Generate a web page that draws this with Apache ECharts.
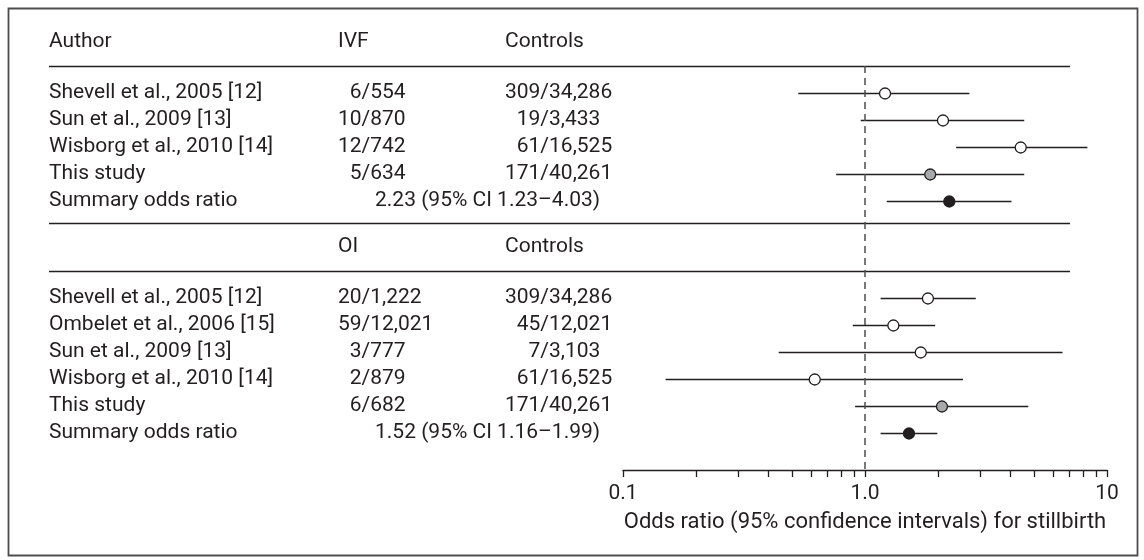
<!DOCTYPE html>
<html>
<head>
<meta charset="utf-8">
<title>Stillbirth odds ratios, IVF and OI</title>
<script src="https://cdn.jsdelivr.net/npm/echarts@6/dist/echarts.min.js"></script>
<style>
  html, body { margin: 0; padding: 0; background: #fff; }
  #chart { width: 1144px; height: 560px; }
</style>
</head>
<body>
<div id="chart"></div>
<script>
// IVF block
const ivfAuthors = ['Shevell et al., 2005 [12]', 'Sun et al., 2009 [13]', 'Wisborg et al., 2010 [14]', 'This study', 'Summary odds ratio'];
const ivfCases = ['6/554', '10/870', '12/742', '5/634'];
const ivfControls = ['309/34,286', '19/3,433', '61/16,525', '171/40,261'];
const ivfSummaryText = '2.23 (95% CI 1.23\u20134.03)';
const ivfOR = [1.21, 2.1, 4.4, 1.86, 2.23];
const ivfLow = [0.53, 0.96, 2.38, 0.76, 1.23];
const ivfHigh = [2.7, 4.55, 8.3, 4.55, 4.03];

// OI block
const oiAuthors = ['Shevell et al., 2005 [12]', 'Ombelet et al., 2006 [15]', 'Sun et al., 2009 [13]', 'Wisborg et al., 2010 [14]', 'This study', 'Summary odds ratio'];
const oiCases = ['20/1,222', '59/12,021', '3/777', '2/879', '6/682'];
const oiControls = ['309/34,286', '45/12,021', '7/3,103', '61/16,525', '171/40,261'];
const oiSummaryText = '1.52 (95% CI 1.16\u20131.99)';
const oiOR = [1.82, 1.31, 1.7, 0.62, 2.08, 1.52];
const oiLow = [1.16, 0.89, 0.44, 0.15, 0.91, 1.16];
const oiHigh = [2.87, 1.95, 6.55, 2.54, 4.73, 1.99];

// x axis
const oddsTicks = [0.1, 0.2, 0.3, 0.4, 0.5, 0.6, 0.7, 0.8, 0.9, 1, 2, 3, 4, 5, 6, 7, 8, 9, 10];
const oddsLabelValues = [0.1, 1, 10];
const oddsLabelText = ['0.1', '1.0', '10'];
const axisTitle = 'Odds ratio (95% confidence intervals) for stillbirth';

// layout (px)
const W = 1144, H = 560;
const ROW0 = 93, ROW = 27;          // first study row, row pitch
const TOP_RULE = 66, AXIS_Y = 470;
const FOREST_LEFT = 623, FOREST_RIGHT = 1107;
const COL_AUTHOR = 49, COL_CASE = 338, COL_CTRL = 505, COL_SUMMARY = 375;
const RULE_X0 = 49, RULE_X1 = 1070;
const INK = '#231f20';
const FONT_FAMILY = 'Roboto';
const FONT_SIZE = 21;

// row positions in row units (0 = first IVF study)
const toRow = px => (px - ROW0) / ROW;
const head1 = toRow(42);
const rule1 = toRow(TOP_RULE);
const ivfRows = ivfAuthors.map((_, i) => i);
const rule2 = ivfRows[ivfRows.length - 1] + 22 / ROW;
const head2 = rule2 + 24 / ROW;
const rule3 = head2 + 24 / ROW;
const oiRows = oiAuthors.map((_, i) => rule3 + 1 + i);

const digitW = FONT_SIZE * 0.5615;
const caseSlash = COL_CASE + 2 * digitW;
const ctrlSlash = COL_CTRL + 3 * digitW;

// table cells
const cells = [];
function cell(x, y, text, align) { cells.push({ x, y, text, align }); }
function ratioCell(slashX, y, s) {
  const k = s.indexOf('/');
  cell(slashX, y, s.slice(0, k), 'right');
  cell(slashX, y, s.slice(k), 'left');
}
cell(COL_AUTHOR, head1, 'Author', 'left');
cell(COL_CASE, head1, 'IVF', 'left');
cell(COL_CTRL, head1, 'Controls', 'left');
ivfAuthors.forEach((a, i) => cell(COL_AUTHOR, ivfRows[i], a, 'left'));
ivfCases.forEach((s, i) => ratioCell(caseSlash, ivfRows[i], s));
ivfControls.forEach((s, i) => ratioCell(ctrlSlash, ivfRows[i], s));
cell(COL_SUMMARY, ivfRows[ivfRows.length - 1], ivfSummaryText, 'left');
cell(COL_CASE, head2, 'OI', 'left');
cell(COL_CTRL, head2, 'Controls', 'left');
oiAuthors.forEach((a, i) => cell(COL_AUTHOR, oiRows[i], a, 'left'));
oiCases.forEach((s, i) => ratioCell(caseSlash, oiRows[i], s));
oiControls.forEach((s, i) => ratioCell(ctrlSlash, oiRows[i], s));
cell(COL_SUMMARY, oiRows[oiRows.length - 1], oiSummaryText, 'left');

// forest data: [or, low, high, row, kind] kind 0 study, 1 this study, 2 summary
function kindOf(name) {
  if (name === 'This study') return 1;
  if (name === 'Summary odds ratio') return 2;
  return 0;
}
const forestData = [];
ivfAuthors.forEach((a, i) => forestData.push([ivfOR[i], ivfLow[i], ivfHigh[i], ivfRows[i], kindOf(a)]));
oiAuthors.forEach((a, i) => forestData.push([oiOR[i], oiLow[i], oiHigh[i], oiRows[i], kindOf(a)]));
const dotFill = ['#ffffff', '#a7a9ac', '#231f20'];

const rules = [[rule1], [rule2], [rule3]];

const chart = echarts.init(document.getElementById('chart'));

chart.setOption({
  backgroundColor: '#fff',
  animation: false,
  textStyle: { fontFamily: FONT_FAMILY, color: INK },
  graphic: [{
    type: 'rect',
    silent: true,
    shape: { x: 8.5, y: 8.5, width: 1129, height: 547 },
    style: { fill: 'none', stroke: '#4d4d4d', lineWidth: 1.8 }
  }],
  grid: [
    { left: 0, top: 0, width: W, height: H },
    { left: FOREST_LEFT, top: TOP_RULE, width: FOREST_RIGHT - FOREST_LEFT, height: AXIS_Y - TOP_RULE }
  ],
  xAxis: [
    { gridIndex: 0, type: 'value', min: 0, max: W, show: false },
    {
      gridIndex: 1,
      type: 'log',
      logBase: 10,
      min: 0.1,
      max: 10,
      axisLine: { onZero: false, lineStyle: { color: INK, width: 1.3 } },
      axisTick: { show: true, length: 7, customValues: oddsTicks, lineStyle: { color: INK, width: 1.3 } },
      axisLabel: {
        customValues: oddsLabelValues,
        margin: 13,
        fontSize: FONT_SIZE,
        fontFamily: FONT_FAMILY,
        color: INK,
        formatter: v => {
          const i = oddsLabelValues.findIndex(t => Math.abs(Math.log10(t) - Math.log10(v)) < 1e-6);
          return i >= 0 ? oddsLabelText[i] : '';
        }
      },
      splitLine: { show: false },
      minorTick: { show: false },
      name: axisTitle,
      nameLocation: 'middle',
      nameGap: 41,
      nameTextStyle: { fontSize: 22, fontFamily: FONT_FAMILY, color: INK }
    }
  ],
  yAxis: [
    { gridIndex: 0, type: 'value', inverse: true, min: toRow(0), max: toRow(H), show: false },
    { gridIndex: 1, type: 'value', inverse: true, min: toRow(TOP_RULE), max: toRow(AXIS_Y), show: false }
  ],
  series: [
    {
      type: 'custom',
      name: 'rules',
      xAxisIndex: 0,
      yAxisIndex: 0,
      silent: true,
      data: rules,
      renderItem: (params, api) => {
        const a = api.coord([RULE_X0, api.value(0)]);
        const b = api.coord([RULE_X1, api.value(0)]);
        return {
          type: 'line',
          shape: { x1: a[0], y1: Math.round(a[1]) + 0.5, x2: b[0], y2: Math.round(b[1]) + 0.5 },
          style: { stroke: INK, lineWidth: 1.5 }
        };
      }
    },
    {
      type: 'custom',
      name: 'table',
      xAxisIndex: 0,
      yAxisIndex: 0,
      silent: true,
      data: cells.map(c => [c.x, c.y]),
      renderItem: (params, api) => {
        const c = cells[params.dataIndex];
        const p = api.coord([c.x, c.y]);
        return {
          type: 'text',
          x: p[0],
          y: p[1],
          style: {
            text: c.text,
            fill: INK,
            font: FONT_SIZE + 'px ' + FONT_FAMILY,
            align: c.align,
            textAlign: c.align,
            verticalAlign: 'middle',
            textVerticalAlign: 'middle'
          }
        };
      }
    },
    {
      type: 'custom',
      name: 'forest',
      xAxisIndex: 1,
      yAxisIndex: 1,
      silent: true,
      clip: false,
      data: forestData,
      encode: { x: [0, 1, 2], y: 3 },
      renderItem: (params, api) => {
        const row = api.value(3);
        const p = api.coord([api.value(0), row]);
        const a = api.coord([api.value(1), row]);
        const b = api.coord([api.value(2), row]);
        const kind = api.value(4);
        const y = Math.round(p[1]) + 0.5;
        return {
          type: 'group',
          children: [
            { type: 'line', shape: { x1: a[0], y1: y, x2: b[0], y2: y }, style: { stroke: INK, lineWidth: 1.3 } },
            { type: 'circle', shape: { cx: p[0], cy: y, r: 5.5 }, style: { fill: dotFill[kind], stroke: INK, lineWidth: 1.3 }, z2: 2 }
          ]
        };
      },
      markLine: {
        silent: true,
        symbol: 'none',
        label: { show: false },
        lineStyle: { color: '#4d4d4d', type: [7, 5], width: 1.5 },
        data: [{ xAxis: 1 }]
      }
    }
  ]
});
</script>
</body>
</html>
